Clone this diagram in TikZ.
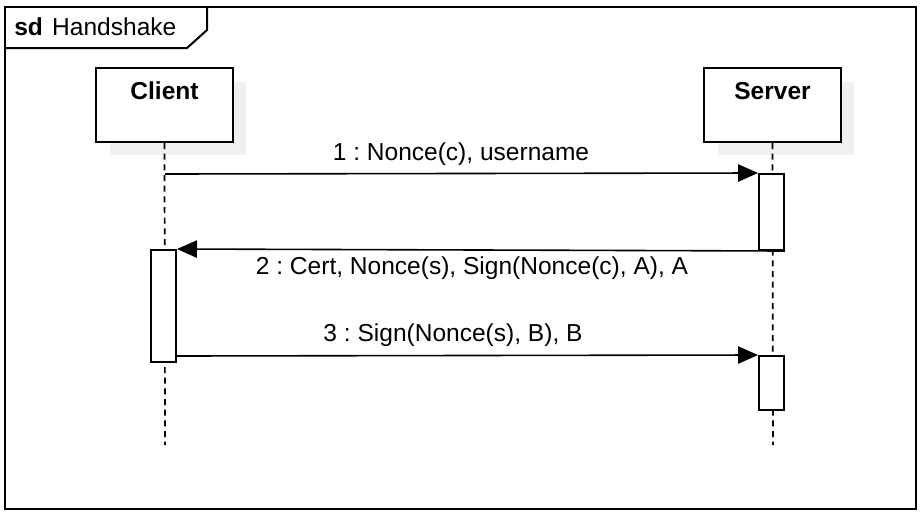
\documentclass[tikz,border=0pt]{standalone}
\usepackage{fontspec}
\setmainfont{Liberation Sans}
\usetikzlibrary{arrows.meta}
\definecolor{shadowc}{HTML}{F0F0F0}
\frenchspacing
\begin{document}
\begin{tikzpicture}[x=0.75pt,y=-0.75pt,
  txt/.style={font=\fontsize{18.4}{22}\selectfont, inner sep=0pt},
  lifebox/.style={draw, line width=1.5pt, fill=white, minimum width=102.75pt, minimum height=55.5pt, inner sep=0pt},
  shadowbox/.style={fill=shadowc},
  act/.style={draw, line width=1.5pt, fill=white, minimum width=18.75pt, inner sep=0pt},
  lifeline/.style={line width=1.3pt, dash pattern=on 4.5pt off 3.5pt},
  msg/.style={line width=1.2pt, -{Triangle[length=15pt,width=13pt]}},
  framel/.style={line width=1.5pt}]
\useasboundingbox (0,0) rectangle (923,515);
% frame
\draw[framel] (5,7) rectangle (916,509);
\draw[framel] (207,7) -- (207,30) -- (187,48) -- (5,48);
\node[txt, anchor=west] (title) at (14,27) {\textbf{sd}\hspace{7pt}Handshake};
% shadows
\fill[shadowbox] (110,82) rectangle (246,155);
\fill[shadowbox] (718,82) rectangle (854,155);
% lifeline heads
\node[lifebox] (client) at (164.5,105) {};
\node[lifebox] (server) at (772.5,105) {};
\node[txt, font=\fontsize{18.4}{22}\selectfont\bfseries] (clientname) at (164.5,91) {Client};
\node[txt, font=\fontsize{18.4}{22}\selectfont\bfseries] (servername) at (772.5,91) {Server};
% lifelines
\coordinate (cend) at (165,445);
\coordinate (send) at (773,445);
\draw[lifeline] (client.south) -- (cend);
\draw[lifeline] (server.south) -- (send);
% activations
\node[act, minimum height=57pt] (a1) at (771.5,212) {};
\node[act, minimum height=84pt] (a2) at (163.5,306) {};
\node[act, minimum height=40.5pt] (a3) at (771.5,383) {};
% messages
\coordinate (m1s) at (165,174);
\draw[msg] (m1s) -- (a1.north west);
\node[txt] (l1) at (461,154) {1 : Nonce(c), username};
\draw[msg] (a1.south east) -- (a2.north east);
\node[txt] (l2) at (472,268) {2 : Cert, Nonce(s), Sign(Nonce(c), A), A};
\coordinate (m3s) at (176,356);
\draw[msg] (m3s) -- (a3.north west);
\node[txt] (l3) at (453,335) {3 : Sign(Nonce(s), B), B};
\end{tikzpicture}
\end{document}
